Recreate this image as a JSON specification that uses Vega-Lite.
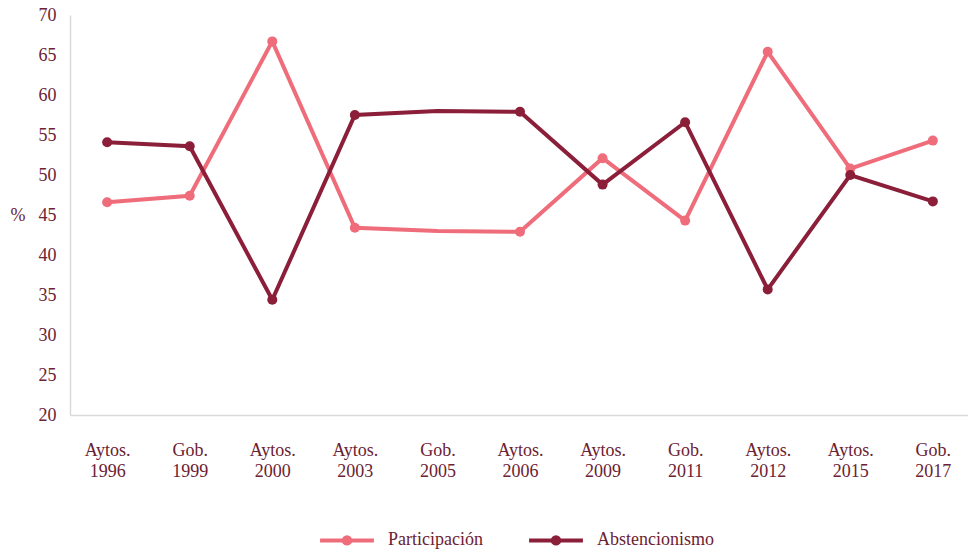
{
  "$schema": "https://vega.github.io/schema/vega-lite/v6.json",
  "width": 900,
  "height": 400,
  "padding": {"left": 10, "top": 6, "right": 0, "bottom": 0},
  "background": "white",
  "config": {
    "view": {"stroke": null},
    "font": "Liberation Serif",
    "axis": {"labelColor": "#6b2233", "titleColor": "#6b2233", "labelFont": "Liberation Serif", "titleFont": "Liberation Serif", "ticks": false, "grid": false, "domainColor": "#d9d9d9", "domainWidth": 1.5},
    "legend": {"labelColor": "#6b2233", "labelFont": "Liberation Serif"}
  },
  "data": {
    "values": [
      {"label": "Aytos.|1996", "serie": "Participación", "valor": 46.6, "marca": true},
      {"label": "Gob.|1999", "serie": "Participación", "valor": 47.4, "marca": true},
      {"label": "Aytos.|2000", "serie": "Participación", "valor": 66.7, "marca": true},
      {"label": "Aytos.|2003", "serie": "Participación", "valor": 43.4, "marca": true},
      {"label": "Gob.|2005", "serie": "Participación", "valor": 43.0, "marca": false},
      {"label": "Aytos.|2006", "serie": "Participación", "valor": 42.9, "marca": true},
      {"label": "Aytos.|2009", "serie": "Participación", "valor": 52.1, "marca": true},
      {"label": "Gob.|2011", "serie": "Participación", "valor": 44.3, "marca": true},
      {"label": "Aytos.|2012", "serie": "Participación", "valor": 65.4, "marca": true},
      {"label": "Aytos.|2015", "serie": "Participación", "valor": 50.8, "marca": true},
      {"label": "Gob.|2017", "serie": "Participación", "valor": 54.3, "marca": true},
      {"label": "Aytos.|1996", "serie": "Abstencionismo", "valor": 54.1, "marca": true},
      {"label": "Gob.|1999", "serie": "Abstencionismo", "valor": 53.6, "marca": true},
      {"label": "Aytos.|2000", "serie": "Abstencionismo", "valor": 34.4, "marca": true},
      {"label": "Aytos.|2003", "serie": "Abstencionismo", "valor": 57.5, "marca": true},
      {"label": "Gob.|2005", "serie": "Abstencionismo", "valor": 58.0, "marca": false},
      {"label": "Aytos.|2006", "serie": "Abstencionismo", "valor": 57.9, "marca": true},
      {"label": "Aytos.|2009", "serie": "Abstencionismo", "valor": 48.8, "marca": true},
      {"label": "Gob.|2011", "serie": "Abstencionismo", "valor": 56.6, "marca": true},
      {"label": "Aytos.|2012", "serie": "Abstencionismo", "valor": 35.7, "marca": true},
      {"label": "Aytos.|2015", "serie": "Abstencionismo", "valor": 50.0, "marca": true},
      {"label": "Gob.|2017", "serie": "Abstencionismo", "valor": 46.7, "marca": true}
    ]
  },
  "encoding": {
    "x": {
      "field": "label", "type": "nominal", "sort": null,
      "scale": {"type": "point", "padding": 0.45},
      "axis": {"title": null, "labelAngle": 0, "labelFontSize": 18, "labelPadding": 26, "labelLineHeight": 21, "labelExpr": "split(datum.label, '|')"}
    },
    "y": {
      "field": "valor", "type": "quantitative",
      "scale": {"domain": [20, 70], "nice": false, "zero": false},
      "axis": {"title": "%", "titleAngle": 0, "titleFontSize": 18, "titleFontWeight": "normal", "titleAlign": "right", "titleBaseline": "middle", "titleX": -45, "titleY": 200, "values": [20, 25, 30, 35, 40, 45, 50, 55, 60, 65, 70], "labelFontSize": 18, "labelPadding": 14}
    },
    "color": {
      "field": "serie", "type": "nominal",
      "scale": {"domain": ["Participación", "Abstencionismo"], "range": ["#ef6d7b", "#8b1f3a"]},
      "legend": {"title": null, "orient": "none", "legendX": 248, "legendY": 496, "direction": "horizontal", "padding": 0, "labelFontSize": 18, "symbolType": "M-1,0L1,0M-0.12,0A0.12,0.12 0 1,1 0.12,0A0.12,0.12 0 1,1 -0.12,0", "symbolSize": 2900, "symbolStrokeWidth": 4, "symbolOpacity": 1, "columnPadding": 38, "labelOffset": 12}
    }
  },
  "layer": [
    {"mark": {"type": "line", "strokeWidth": 4}},
    {"transform": [{"filter": "datum.marca"}], "mark": {"type": "point", "filled": true, "size": 100, "opacity": 1}}
  ]
}
